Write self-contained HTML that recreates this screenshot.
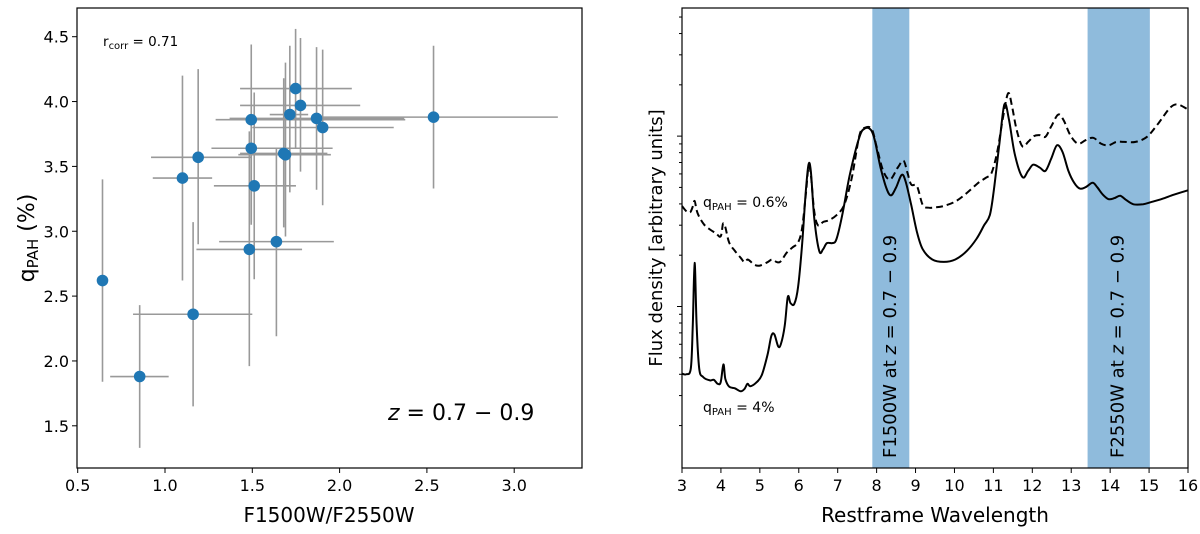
<!DOCTYPE html>
<html><head><meta charset="utf-8"><style>
html,body{margin:0;padding:0;background:#fff;}
svg{display:block;font-family:"DejaVu Sans","Liberation Sans",sans-serif;}
</style></head><body>
<svg id="fig" width="1200" height="534" viewBox="0 0 1200 534" xmlns="http://www.w3.org/2000/svg">
<g id="left"></g>
<g id="right"></g>
</svg>
<script>
// ---- Left scatter data ----
const ratioX = [0.642,0.855,1.10,1.161,1.19,1.483,1.494,1.494,1.511,1.638,1.68,1.69,1.715,1.748,1.776,1.868,1.903,2.538];
const qpahY  = [2.62,1.88,3.41,2.36,3.57,2.86,3.86,3.64,3.35,2.92,3.60,3.59,3.90,4.10,3.97,3.87,3.80,3.88];
const xErrLo = [null,0.686,0.93,0.817,0.92,1.18,1.29,1.266,1.28,1.31,1.43,1.42,1.60,1.43,1.43,1.37,1.50,1.89];
const xErrHi = [null,1.021,1.27,1.50,1.49,1.785,2.376,1.96,1.75,1.967,1.93,1.95,1.82,2.07,2.118,2.37,2.31,3.25];
const yErrHi = [3.40,2.43,4.20,3.07,4.25,3.77,4.44,3.78,4.07,3.64,4.18,4.30,4.43,4.56,4.49,4.42,4.40,4.43];
const yErrLo = [1.84,1.33,2.62,1.65,2.90,1.96,3.05,3.07,2.63,2.19,3.03,2.96,3.30,3.64,3.46,3.32,3.20,3.33];
const xTicksL = [0.5,1.0,1.5,2.0,2.5,3.0];
const yTicksL = [1.5,2.0,2.5,3.0,3.5,4.0,4.5];

// ---- Right spectrum data (wavelength in micron, flux arbitrary, log axis) ----
const solidZX = [217,228,240,245,250,255,262,272,290,300,310,318,325,330,340,355,370,380,388,395,410,425,440,450,458,468,475,485,493,500,510,520,530,540,547,553,562,575,585,595,610,620,635,655,680,695,710,720,735,750,762,775,790,800,815,830,845,870,900,930,960,985,1005,1020,1030,1045,1058,1070,1085,1105,1120,1133,1150,1165,1180,1195,1210,1225,1240,1255,1270,1288,1300,1315,1330,1345,1360,1375,1395,1420,1440,1470,1500,1537];
const solidZY = [1095,1097,1080,960,770,950,1080,1105,1115,1113,1125,1120,1068,1110,1133,1138,1147,1140,1125,1132,1122,1100,1040,985,980,1015,1008,955,870,888,890,840,720,560,482,500,640,735,730,712,712,700,630,510,400,375,380,410,490,550,572,550,512,530,600,680,730,760,767,760,735,700,660,630,560,420,305,350,450,518,500,482,490,500,465,425,445,500,535,552,548,535,548,570,583,580,573,585,598,598,592,582,570,557];
const dashZX = [217,228,238,245,250,255,262,275,290,305,318,324,330,340,355,370,380,388,395,405,420,440,452,465,475,490,505,520,530,540,547,553,562,572,585,600,620,640,660,680,695,712,725,742,760,780,795,805,815,830,845,860,880,900,930,960,990,1010,1025,1040,1055,1068,1078,1090,1105,1120,1135,1150,1165,1180,1198,1212,1230,1250,1270,1290,1310,1330,1350,1370,1400,1430,1460,1490,1510,1537];
const dashZY = [603,618,622,605,588,615,635,658,672,683,692,655,665,710,735,755,768,760,765,775,778,768,760,768,765,740,725,710,670,570,488,510,620,660,650,645,630,600,520,395,373,378,430,500,525,490,470,505,540,545,600,608,607,603,590,565,535,520,505,440,340,272,310,380,428,415,398,395,400,370,335,350,395,420,410,403,420,425,415,415,415,400,360,315,305,320];
const lowQWave = solidZX.map(z=>+(3+(z-217)/101.54).toFixed(3));
const lowQFlux = solidZY.map(z=>+Math.pow(10,(898-z)/500).toFixed(4));
const hiQWave  = dashZX.map(z=>+(3+(z-217)/101.54).toFixed(3));
const hiQFlux  = dashZY.map(z=>+Math.pow(10,(898-z)/500).toFixed(4));
const bandStart = [7.89,13.42];
const bandEnd   = [8.84,15.02];
const bandNames = ["F1500W","F2550W"];
const xTicksR = [3,4,5,6,7,8,9,10,11,12,13,14,15,16];

const NS="http://www.w3.org/2000/svg";
function mk(parent,tag,attrs,text){const e=document.createElementNS(NS,tag);for(const k in attrs)e.setAttribute(k,attrs[k]);if(text!==undefined)e.textContent=text;parent.appendChild(e);return e;}

// ===== Left panel =====
const L=document.getElementById('left');
const lx0=77,lx1=582,ly0=8,ly1=468;
const sxL=v=>77.7+(v-0.5)*174.6;
const syL=v=>36.7-(v-4.5)*129.7;
for(let i=0;i<ratioX.length;i++){
  const cx=sxL(ratioX[i]),cy=syL(qpahY[i]);
  const v=mk(L,'line',{x1:cx,x2:cx,y1:syL(yErrHi[i]),y2:syL(yErrLo[i]),stroke:'#999',"stroke-width":1.6});
  
  
  if(xErrLo[i]!==null){
    const h=mk(L,'line',{x1:sxL(xErrLo[i]),x2:sxL(xErrHi[i]),y1:cy,y2:cy,stroke:'#999',"stroke-width":1.6});
    
    
  }
}
for(let i=0;i<ratioX.length;i++){
  const c=mk(L,'circle',{cx:sxL(ratioX[i]),cy:syL(qpahY[i]),r:5.8,fill:'#1f77b4'});
  
  
}
const fl=mk(L,'rect',{x:lx0,y:ly0,width:lx1-lx0,height:ly1-ly0,fill:'none',stroke:'#000',"stroke-width":1.2});


xTicksL.forEach(t=>{const x=sxL(t);mk(L,'line',{x1:x,x2:x,y1:ly1,y2:ly1+5,stroke:'#000'});
  const tl=mk(L,'text',{x:x,y:ly1+23,"font-size":16,"text-anchor":"middle"},t.toFixed(1));
  
  });
yTicksL.forEach(t=>{const y=syL(t);mk(L,'line',{x1:lx0-5,x2:lx0,y1:y,y2:y,stroke:'#000'});
  const tl=mk(L,'text',{x:lx0-8,y:y+6,"font-size":16,"text-anchor":"end"},t.toFixed(1));
  
  });
const xt=mk(L,'text',{x:329,y:522,"font-size":20,"text-anchor":"middle"},'F1500W/F2550W');

const yt=mk(L,'text',{transform:'translate(34,238) rotate(-90)',"font-size":22,"text-anchor":"middle"});

yt.innerHTML='q<tspan font-size="15" dy="4">PAH</tspan><tspan dy="-4"> (%)</tspan>';
const rc=mk(L,'text',{x:103,y:46,"font-size":13.5});

rc.innerHTML='r<tspan font-size="10" dy="3">corr</tspan><tspan dy="-3"> = 0.71</tspan>';
const zr=mk(L,'text',{x:388,y:420,"font-size":22});

zr.innerHTML='<tspan font-style="italic">z</tspan> = 0.7 − 0.9';

// ===== Right panel =====
const R=document.getElementById('right');
const rx0=682,rx1=1188,ry0=8,ry1=468;
const sxR=v=>rx0+(v-3)*(rx1-rx0)/13;
const syR=f=>{const zy=898-500*Math.log10(f);return 8+(zy-22)/1350*460;};
for(let i=0;i<bandStart.length;i++){
  const b=mk(R,'rect',{x:sxR(bandStart[i]),y:ry0,width:sxR(bandEnd[i])-sxR(bandStart[i]),height:ry1-ry0,fill:'#8fbbdc'});
  
  
  const cx=(sxR(bandStart[i])+sxR(bandEnd[i]))/2+5;
  const t=mk(R,'text',{transform:`translate(${cx},458) rotate(-90)`,"font-size":18});
  
  
  t.innerHTML=bandNames[i]+' at <tspan font-style="italic">z</tspan> = 0.7 − 0.9';
}
function path(xs,ys){
  const p=xs.map((x,i)=>[sxR(x),syR(ys[i])]);
  let d='M'+p[0][0].toFixed(1)+','+p[0][1].toFixed(1);
  for(let i=0;i<p.length-1;i++){
    const p0=p[Math.max(0,i-1)],p1=p[i],p2=p[i+1],p3=p[Math.min(p.length-1,i+2)];
    const c1x=p1[0]+(p2[0]-p0[0])/6,c1y=p1[1]+(p2[1]-p0[1])/6;
    const c2x=p2[0]-(p3[0]-p1[0])/6,c2y=p2[1]-(p3[1]-p1[1])/6;
    d+='C'+c1x.toFixed(1)+','+c1y.toFixed(1)+' '+c2x.toFixed(1)+','+c2y.toFixed(1)+' '+p2[0].toFixed(1)+','+p2[1].toFixed(1);
  }
  return d;
}
const dp=mk(R,'path',{d:path(hiQWave,hiQFlux),fill:'none',stroke:'#000',"stroke-width":2,"stroke-dasharray":"7,4"});

const sp=mk(R,'path',{d:path(lowQWave,lowQFlux),fill:'none',stroke:'#000',"stroke-width":2});

const fr=mk(R,'rect',{x:rx0,y:ry0,width:rx1-rx0,height:ry1-ry0,fill:'none',stroke:'#000',"stroke-width":1.2});

xTicksR.forEach(t=>{const x=sxR(t);mk(R,'line',{x1:x,x2:x,y1:ry1,y2:ry1+5,stroke:'#000'});
  const tl=mk(R,'text',{x:x,y:ry1+23,"font-size":16,"text-anchor":"middle"},String(t));
  
  });
for(let d=-1;d<=1;d++){for(let m=1;m<=9;m++){const f=m*Math.pow(10,d);const y=syR(f);if(y<ry0||y>ry1)continue;
  mk(R,'line',{x1:rx0-(m===1?5:3),x2:rx0,y1:y,y2:y,stroke:'#000'});}}
const rxt=mk(R,'text',{x:935,y:522,"font-size":20,"text-anchor":"middle"},'Restframe Wavelength');

const ryt=mk(R,'text',{transform:'translate(662,238) rotate(-90)',"font-size":18,"text-anchor":"middle"},'Flux density [arbitrary units]');

const l1=mk(R,'text',{x:703,y:207,"font-size":14});

l1.innerHTML='q<tspan font-size="10" dy="3">PAH</tspan><tspan dy="-3"> = 0.6%</tspan>';
const l2=mk(R,'text',{x:703,y:412,"font-size":14});

l2.innerHTML='q<tspan font-size="10" dy="3">PAH</tspan><tspan dy="-3"> = 4%</tspan>';
</script>
</body></html>
